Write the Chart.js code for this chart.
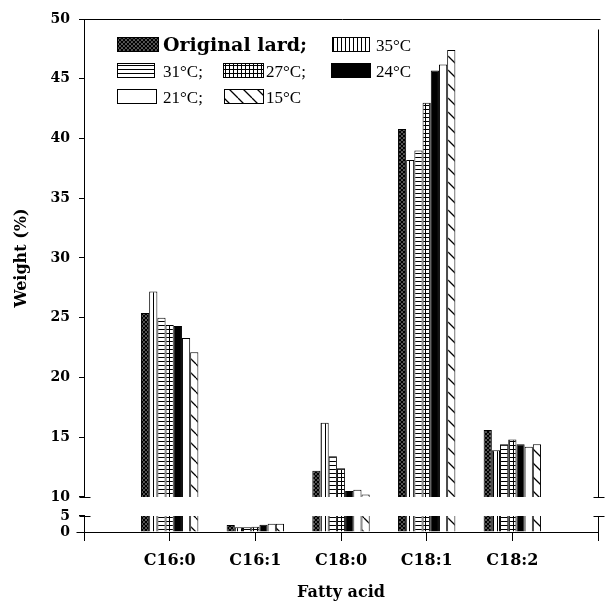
<!DOCTYPE html>
<html><head><meta charset="utf-8">
<script src="https://cdn.jsdelivr.net/npm/chart.js@4"></script>
<style>html,body{margin:0;padding:0;background:#fff}#wrap{width:608px;height:602px}</style>
</head><body><div id="wrap"><canvas id="c" width="608" height="602"></canvas></div>
<script>
// ---------------- data ----------------
const categories = ['C16:0', 'C16:1', 'C18:0', 'C18:1', 'C18:2'];
const seriesNames = ['Original lard', '35°C', '31°C', '27°C', '24°C', '21°C', '15°C'];
const legendLabels = ['Original lard;', '35°C', '31°C;', '27°C;', '24°C', '21°C;', '15°C'];
const originalLard = [25.4, 2.2, 12.2, 40.8, 15.6];
const t35 = [27.2, 1.5, 16.2, 38.2, 13.9];
const t31 = [25.0, 1.5, 13.4, 39.0, 14.4];
const t27 = [24.4, 1.6, 12.4, 43.0, 14.8];
const t24 = [24.3, 2.3, 10.5, 45.7, 14.4];
const t21 = [23.3, 2.6, 10.6, 46.2, 14.2];
const t15 = [22.1, 2.6, 10.2, 47.4, 14.4];
const upperTicks = [10, 15, 20, 25, 30, 35, 40, 45, 50];
const lowerTicks = [0, 5];
const upperRange = [10, 50];
const lowerRange = [0, 5];
// ---------------------------------------

const allSeries = [originalLard, t35, t31, t27, t24, t21, t15];
const patternTypes = ['cross', 'vertical', 'horizontal', 'grid', 'black', 'white', 'diagonal'];

function makePattern(type) {
  if (type === 'black') return '#000';
  if (type === 'white') return '#fff';
  const c = document.createElement('canvas');
  const g = c.getContext('2d');
  let w = 4, h = 4;
  if (type === 'diagonal') { w = h = 14; }
  c.width = w; c.height = h;
  g.fillStyle = '#fff'; g.fillRect(0, 0, w, h);
  g.strokeStyle = '#000'; g.fillStyle = '#000';
  if (type === 'cross') {
    g.lineWidth = 1.6;
    g.beginPath();
    g.moveTo(0, 0); g.lineTo(4, 4); g.moveTo(0, 4); g.lineTo(4, 0);
    g.stroke();
  } else if (type === 'vertical') {
    g.fillRect(1, 0, 1, h);
  } else if (type === 'horizontal') {
    g.fillRect(0, 1, w, 1);
  } else if (type === 'grid') {
    g.fillRect(1, 0, 1, h); g.fillRect(0, 1, w, 1);
  } else if (type === 'diagonal') {
    g.lineWidth = 1.3;
    g.beginPath();
    for (const x0 of [-w, 0, w]) { g.moveTo(x0, 0); g.lineTo(x0 + w, h); }
    g.stroke();
  }
  return g.createPattern(c, 'repeat');
}

const fills = patternTypes.map(makePattern);
const xLabels = ['', ...categories, ''];
const pad = arr => [null, ...arr, null];

const datasets = [];
allSeries.forEach((vals, i) => {
  datasets.push({
    label: seriesNames[i], yAxisID: 'y', stack: 's' + i,
    data: pad(vals.map(v => v > upperRange[0] ? [upperRange[0], v] : null)),
    backgroundColor: fills[i], borderColor: '#000',
    borderWidth: {top: 1, left: 1, right: 1, bottom: 0}, borderSkipped: false
  });
  datasets.push({
    label: seriesNames[i] + ' low', yAxisID: 'yLow', stack: 's' + i,
    data: pad(vals.map(v => [lowerRange[0], Math.min(v, lowerRange[1])])),
    backgroundColor: fills[i], borderColor: '#000',
    borderWidth: (ctx) => {
      const v = vals[ctx.dataIndex - 1];
      return {top: (v !== undefined && v < lowerRange[1]) ? 1 : 0, left: 1, right: 1, bottom: 0};
    },
    borderSkipped: false
  });
});

const tickFont = {family: 'DejaVu Serif', weight: 'bold', size: 14};
const titleFont = {family: 'DejaVu Serif', weight: 'bold', size: 16};

function line(ctx, x1, y1, x2, y2) {
  ctx.beginPath(); ctx.moveTo(x1, y1); ctx.lineTo(x2, y2); ctx.stroke();
}

const decor = {
  id: 'decor',
  afterDraw(chart) {
    const {ctx, chartArea: a, scales} = chart;
    const y = scales.y, yLow = scales.yLow;
    const al = v => Math.round(v) + 0.5;
    const yTop = al(y.getPixelForValue(upperRange[1]));
    const y10 = al(y.getPixelForValue(upperRange[0]));
    const y5 = al(yLow.getPixelForValue(lowerRange[1]));
    const y0 = al(yLow.getPixelForValue(lowerRange[0]));
    const L = al(a.left), R = al(a.right);
    ctx.save();
    ctx.strokeStyle = '#000'; ctx.lineWidth = 1;
    line(ctx, L, yTop, R + 2, yTop);
    line(ctx, R, yTop + 10, R, y10);
    line(ctx, R, y5, R, y0);
    for (const xx of [L, R]) {
      line(ctx, xx - 5, y10, xx + 6, y10);
      line(ctx, xx - 5, y5, xx + 6, y5);
    }
    line(ctx, L - 8, y0, R, y0);
    // legend
    const items = [
      {x: 117, y: 37, w: 41, tx: 163, big: true},
      {x: 332, y: 37, w: 37, tx: 376},
      {x: 117, y: 63, w: 37, tx: 163},
      {x: 223, y: 63, w: 40, tx: 266},
      {x: 331, y: 63, w: 39, tx: 376},
      {x: 117, y: 89, w: 39, tx: 163},
      {x: 224, y: 89, w: 39, tx: 266}
    ];
    items.forEach((it, i) => {
      ctx.fillStyle = fills[i];
      ctx.fillRect(it.x, it.y, it.w, 14);
      ctx.strokeRect(it.x + 0.5, it.y + 0.5, it.w, 14);
      ctx.fillStyle = '#000';
      ctx.textBaseline = 'alphabetic';
      ctx.textAlign = 'left';
      ctx.font = it.big ? 'bold 19px "DejaVu Serif"' : '17px "Liberation Serif"';
      ctx.fillText(legendLabels[i], it.tx, it.y + 14);
    });
    ctx.restore();
  }
};

new Chart(document.getElementById('c'), {
  type: 'bar',
  data: {labels: xLabels, datasets},
  plugins: [decor],
  options: {
    responsive: false,
    animation: false,
    devicePixelRatio: 1,
    layout: {padding: {top: 19, right: 5, left: 0, bottom: 0}},
    categoryPercentage: 0.67,
    barPercentage: 1.0,
    plugins: {legend: {display: false}, tooltip: {enabled: false}},
    scales: {
      x: {
        type: 'category', offset: false,
        grid: {display: true, offset: false, drawOnChartArea: false, drawTicks: true, tickLength: 9, color: '#000', lineWidth: 1},
        border: {display: true, color: '#000', width: 1},
        ticks: {autoSkip: false, maxRotation: 0, minRotation: 0, font: {family: 'DejaVu Serif', weight: 'bold', size: 16}, color: '#000', padding: 10},
        title: {display: true, text: 'Fatty acid', font: titleFont, color: '#000', padding: {top: 0, bottom: 0}},
        afterFit: s => { s.height = 70; }
      },
      yLow: {
        type: 'linear', position: 'left', stack: 'v', stackWeight: 16, weight: 1,
        min: lowerRange[0], max: lowerRange[1], stacked: false, beginAtZero: false,
        afterBuildTicks: s => { s.ticks = lowerTicks.map(v => ({value: v})); },
        grid: {display: true, drawOnChartArea: false, tickLength: 5, color: '#000'},
        border: {display: true, color: '#000'},
        ticks: {autoSkip: false, font: tickFont, color: '#000', padding: 9},
        afterFit: s => { s.width = 84; }
      },
      yGap: {
        type: 'linear', position: 'left', stack: 'v', stackWeight: 19, weight: 2,
        min: 0, max: 1,
        grid: {display: false}, border: {display: false}, ticks: {display: false},
        afterFit: s => { s.width = 84; }
      },
      y: {
        type: 'linear', position: 'left', stack: 'v', stackWeight: 477, weight: 3,
        min: upperRange[0], max: upperRange[1], stacked: false, beginAtZero: false,
        afterBuildTicks: s => { s.ticks = upperTicks.map(v => ({value: v})); },
        grid: {display: true, drawOnChartArea: false, tickLength: 5, color: '#000'},
        border: {display: true, color: '#000'},
        ticks: {autoSkip: false, font: tickFont, color: '#000', padding: 9},
        title: {display: true, text: 'Weight (%)', font: titleFont, color: '#000', padding: {top: 12, bottom: 0}},
        afterFit: s => { s.width = 84; }
      }
    }
  }
});
</script>
</body></html>
